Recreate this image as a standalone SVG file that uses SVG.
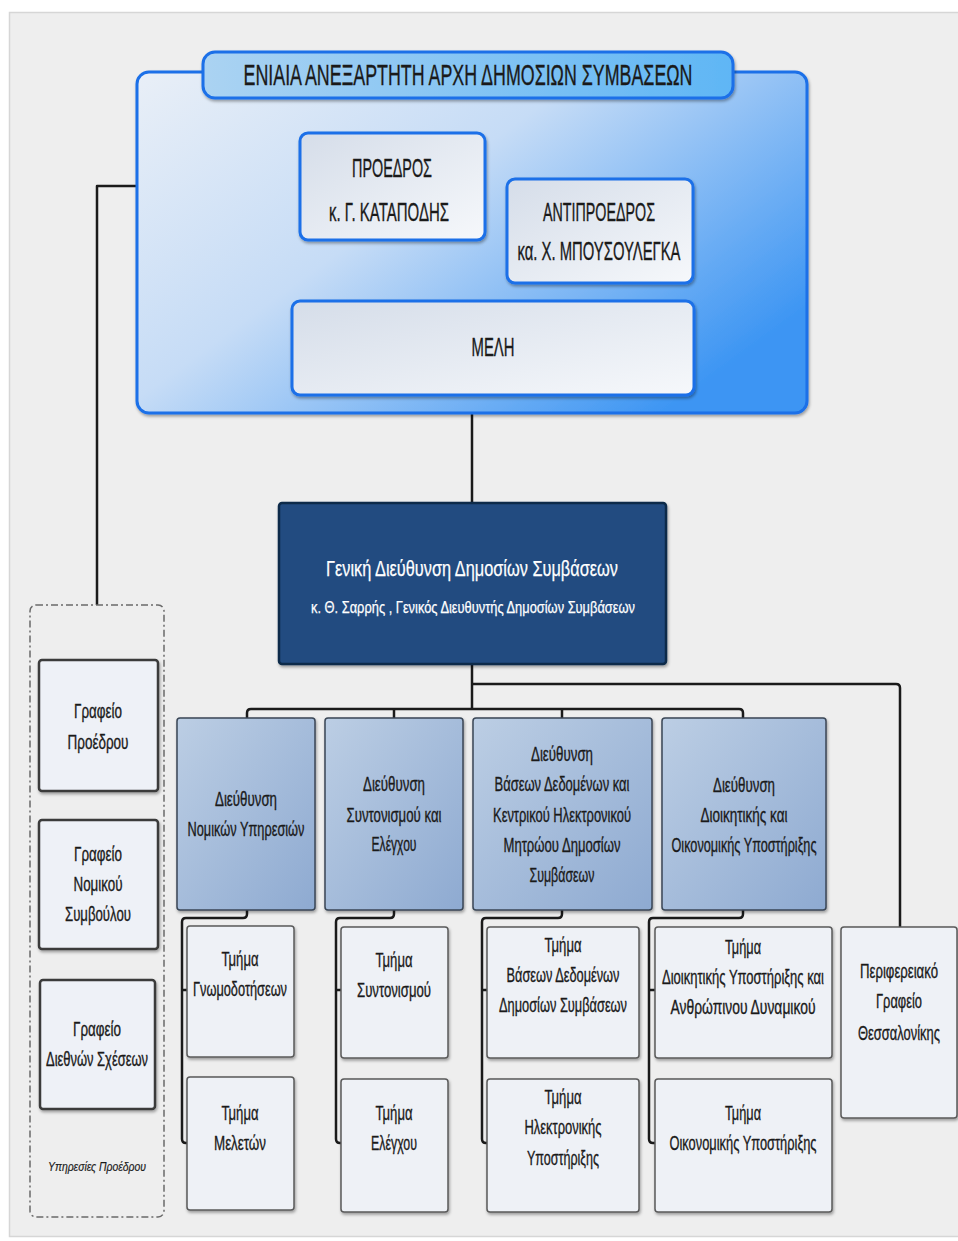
<svg xmlns="http://www.w3.org/2000/svg" width="958" height="1241" viewBox="0 0 958 1241">
<style>
.t{font-family:"Liberation Sans","Open Sans",sans-serif;fill:#1a1a1a;stroke:#1a1a1a;stroke-width:0.35;text-anchor:middle}
.w{font-family:"Liberation Sans","Open Sans",sans-serif;fill:#ffffff;stroke:#ffffff;stroke-width:0.25;text-anchor:middle}
.d{font-size:20px}
.s{font-size:20px}
.con{fill:none;stroke:#1a1a1a;stroke-width:2.5;stroke-linejoin:round}
.inner{fill:url(#gInner);stroke:#1a6fe8;stroke-width:3}
.div{fill:url(#gDiv);stroke:#3a4656;stroke-width:1.5}
.sub{fill:#eef1f6;stroke:#5a5a5a;stroke-width:1.5}
.left{fill:#eef1f7;stroke:#3a3a3a;stroke-width:2.5}
</style>
<defs>
<linearGradient id="gCont" x1="0" y1="0" x2="1" y2="0.7">
<stop offset="0" stop-color="#e9eff7"/>
<stop offset="0.45" stop-color="#c6dcf6"/>
<stop offset="1" stop-color="#3c95f3"/>
</linearGradient>
<linearGradient id="gTitle" x1="0" y1="0" x2="1" y2="0">
<stop offset="0" stop-color="#abd3f2"/>
<stop offset="1" stop-color="#5fb6f5"/>
</linearGradient>
<linearGradient id="gInner" x1="0" y1="0" x2="1" y2="1">
<stop offset="0" stop-color="#d5dde9"/>
<stop offset="1" stop-color="#f6f8fb"/>
</linearGradient>
<linearGradient id="gDiv" x1="0" y1="0" x2="1" y2="1">
<stop offset="0" stop-color="#bccee4"/>
<stop offset="1" stop-color="#8eaad1"/>
</linearGradient>
<filter id="sh" x="-10%" y="-10%" width="130%" height="130%">
<feDropShadow dx="1" dy="2" stdDeviation="1.5" flood-color="#000" flood-opacity="0.35"/>
</filter>
</defs>

<rect x="0" y="0" width="958" height="1241" fill="#ffffff"/>
<rect x="9.5" y="12.5" width="960" height="1224" fill="#eeeeee" stroke="#d6d6d6" stroke-width="1.5"/>

<g id="connectors">
<path class="con" d="M300,186 H97 V605"/>
<path class="con" d="M472,413 V503"/>
<path class="con" d="M472,665 V709"/>
<path class="con" d="M247,718 V713 Q247,709 251,709 H739 Q743,709 743,713 V718"/>
<path class="con" d="M394,709 V718"/>
<path class="con" d="M562,709 V718"/>
<path class="con" d="M472,684 H896 Q900,684 900,688 V927"/>
<path class="con" d="M247,910 V914 Q247,918 243,918 H186 Q182,918 182,922 V1139 Q182,1143 186,1143 H187 M182,990 H187"/>
<path class="con" d="M394,910 V914 Q394,918 390,918 H340 Q336,918 336,922 V1139 Q336,1143 340,1143 H341 M336,990 H341"/>
<path class="con" d="M562,910 V914 Q562,918 558,918 H486 Q482,918 482,922 V1139 Q482,1143 486,1143 H487 M482,990 H487"/>
<path class="con" d="M743,910 V914 Q743,918 739,918 H653 Q649,918 649,922 V1139 Q649,1143 653,1143 H655 M649,990 H655"/>
</g>

<g id="authority">
<rect x="137" y="72" width="670" height="341" rx="12" fill="url(#gCont)" stroke="#1a6fe8" stroke-width="3" filter="url(#sh)"/>
</g>
<g id="title">
<rect x="203" y="52" width="530" height="46" rx="12" fill="url(#gTitle)" stroke="#1a6fe8" stroke-width="3" filter="url(#sh)"/>
<text class="t" x="468" y="85" font-size="30" textLength="449" lengthAdjust="spacingAndGlyphs">ΕΝΙΑΙΑ ΑΝΕΞΑΡΤΗΤΗ ΑΡΧΗ ΔΗΜΟΣΙΩΝ ΣΥΜΒΑΣΕΩΝ</text>
</g>
<g id="president">
<rect class="inner" x="300" y="133" width="185" height="107" rx="8" filter="url(#sh)"/>
<text class="t" x="392" y="177" font-size="25" textLength="80" lengthAdjust="spacingAndGlyphs">ΠΡΟΕΔΡΟΣ</text>
<text class="t" x="389" y="221" font-size="25" textLength="120" lengthAdjust="spacingAndGlyphs">κ. Γ. ΚΑΤΑΠΟΔΗΣ</text>
</g>
<g id="vicepresident">
<rect class="inner" x="507" y="179" width="186" height="104" rx="8" filter="url(#sh)"/>
<text class="t" x="599" y="221" font-size="25" textLength="112" lengthAdjust="spacingAndGlyphs">ΑΝΤΙΠΡΟΕΔΡΟΣ</text>
<text class="t" x="599" y="260" font-size="25" textLength="163" lengthAdjust="spacingAndGlyphs">κα. Χ. ΜΠΟΥΣΟΥΛΕΓΚΑ</text>
</g>
<g id="members">
<rect class="inner" x="292" y="301" width="402" height="94" rx="8" filter="url(#sh)"/>
<text class="t" x="493" y="356" font-size="25" textLength="43" lengthAdjust="spacingAndGlyphs">ΜΕΛΗ</text>
</g>

<g id="general-directorate">
<rect x="279" y="503" width="387" height="161" rx="3" fill="#224b80" stroke="#0f2a4a" stroke-width="2.5" filter="url(#sh)"/>
<text class="w" x="472" y="576" font-size="22" textLength="292" lengthAdjust="spacingAndGlyphs">Γενική Διεύθυνση Δημοσίων Συμβάσεων</text>
<text class="w" x="473" y="613" font-size="16" textLength="324" lengthAdjust="spacingAndGlyphs">κ. Θ. Σαρρής , Γενικός Διευθυντής Δημοσίων Συμβάσεων</text>
</g>

<g id="president-services">
<rect x="30" y="605" width="134" height="612" rx="6" fill="none" stroke="#6a6a6a" stroke-width="1.5" stroke-dasharray="7 3 2 3"/>
<text class="t" x="97" y="1171" font-size="13" font-style="italic" textLength="98" lengthAdjust="spacingAndGlyphs" style="stroke-width:0.2">Υπηρεσίες Προέδρου</text>
</g>
<g id="office-president">
<rect class="left" x="39" y="660" width="119" height="131" rx="3" filter="url(#sh)"/>
<text class="t d" x="98" y="718" textLength="48" lengthAdjust="spacingAndGlyphs">Γραφείο</text>
<text class="t d" x="98" y="749" textLength="61" lengthAdjust="spacingAndGlyphs">Προέδρου</text>
</g>
<g id="office-legal-advisor">
<rect class="left" x="39" y="820" width="119" height="129" rx="3" filter="url(#sh)"/>
<text class="t d" x="98" y="861" textLength="48" lengthAdjust="spacingAndGlyphs">Γραφείο</text>
<text class="t d" x="98" y="891" textLength="49" lengthAdjust="spacingAndGlyphs">Νομικού</text>
<text class="t d" x="98" y="921" textLength="66" lengthAdjust="spacingAndGlyphs">Συμβούλου</text>
</g>
<g id="office-international">
<rect class="left" x="40" y="980" width="115" height="129" rx="3" filter="url(#sh)"/>
<text class="t d" x="97" y="1036" textLength="48" lengthAdjust="spacingAndGlyphs">Γραφείο</text>
<text class="t d" x="97" y="1066" textLength="102" lengthAdjust="spacingAndGlyphs">Διεθνών Σχέσεων</text>
</g>

<g id="dir-legal">
<rect class="div" x="177" y="718" width="138" height="192" rx="3" filter="url(#sh)"/>
<text class="t d" x="246" y="806" textLength="62" lengthAdjust="spacingAndGlyphs">Διεύθυνση</text>
<text class="t d" x="246" y="836" textLength="117" lengthAdjust="spacingAndGlyphs">Νομικών Υπηρεσιών</text>
</g>
<g id="dir-coordination">
<rect class="div" x="325" y="718" width="138" height="192" rx="3" filter="url(#sh)"/>
<text class="t d" x="394" y="791" textLength="62" lengthAdjust="spacingAndGlyphs">Διεύθυνση</text>
<text class="t d" x="394" y="822" textLength="95" lengthAdjust="spacingAndGlyphs">Συντονισμού και</text>
<text class="t d" x="394" y="851" textLength="45" lengthAdjust="spacingAndGlyphs">Ελέγχου</text>
</g>
<g id="dir-databases">
<rect class="div" x="473" y="718" width="179" height="192" rx="3" filter="url(#sh)"/>
<text class="t d" x="562" y="761" textLength="62" lengthAdjust="spacingAndGlyphs">Διεύθυνση</text>
<text class="t d" x="562" y="791" textLength="135" lengthAdjust="spacingAndGlyphs">Βάσεων Δεδομένων και</text>
<text class="t d" x="562" y="822" textLength="138" lengthAdjust="spacingAndGlyphs">Κεντρικού Ηλεκτρονικού</text>
<text class="t d" x="562" y="852" textLength="117" lengthAdjust="spacingAndGlyphs">Μητρώου Δημοσίων</text>
<text class="t d" x="562" y="882" textLength="65" lengthAdjust="spacingAndGlyphs">Συμβάσεων</text>
</g>
<g id="dir-admin">
<rect class="div" x="662" y="718" width="164" height="192" rx="3" filter="url(#sh)"/>
<text class="t d" x="744" y="792" textLength="62" lengthAdjust="spacingAndGlyphs">Διεύθυνση</text>
<text class="t d" x="744" y="822" textLength="87" lengthAdjust="spacingAndGlyphs">Διοικητικής και</text>
<text class="t d" x="744" y="852" textLength="145" lengthAdjust="spacingAndGlyphs">Οικονομικής Υποστήριξης</text>
</g>

<g id="dept-opinions">
<rect class="sub" x="187" y="926" width="107" height="131" rx="3" filter="url(#sh)"/>
<text class="t s" x="240" y="966" textLength="37" lengthAdjust="spacingAndGlyphs">Τμήμα</text>
<text class="t s" x="240" y="996" textLength="94" lengthAdjust="spacingAndGlyphs">Γνωμοδοτήσεων</text>
</g>
<g id="dept-studies">
<rect class="sub" x="187" y="1077" width="107" height="133" rx="3" filter="url(#sh)"/>
<text class="t s" x="240" y="1120" textLength="37" lengthAdjust="spacingAndGlyphs">Τμήμα</text>
<text class="t s" x="240" y="1150" textLength="52" lengthAdjust="spacingAndGlyphs">Μελετών</text>
</g>
<g id="dept-coordination">
<rect class="sub" x="341" y="927" width="107" height="131" rx="3" filter="url(#sh)"/>
<text class="t s" x="394" y="967" textLength="37" lengthAdjust="spacingAndGlyphs">Τμήμα</text>
<text class="t s" x="394" y="997" textLength="74" lengthAdjust="spacingAndGlyphs">Συντονισμού</text>
</g>
<g id="dept-control">
<rect class="sub" x="341" y="1079" width="107" height="133" rx="3" filter="url(#sh)"/>
<text class="t s" x="394" y="1120" textLength="37" lengthAdjust="spacingAndGlyphs">Τμήμα</text>
<text class="t s" x="394" y="1150" textLength="46" lengthAdjust="spacingAndGlyphs">Ελέγχου</text>
</g>
<g id="dept-databases">
<rect class="sub" x="487" y="927" width="152" height="131" rx="3" filter="url(#sh)"/>
<text class="t s" x="563" y="952" textLength="37" lengthAdjust="spacingAndGlyphs">Τμήμα</text>
<text class="t s" x="563" y="982" textLength="113" lengthAdjust="spacingAndGlyphs">Βάσεων Δεδομένων</text>
<text class="t s" x="563" y="1012" textLength="128" lengthAdjust="spacingAndGlyphs">Δημοσίων Συμβάσεων</text>
</g>
<g id="dept-electronic">
<rect class="sub" x="487" y="1079" width="152" height="133" rx="3" filter="url(#sh)"/>
<text class="t s" x="563" y="1104" textLength="37" lengthAdjust="spacingAndGlyphs">Τμήμα</text>
<text class="t s" x="563" y="1134" textLength="77" lengthAdjust="spacingAndGlyphs">Ηλεκτρονικής</text>
<text class="t s" x="563" y="1165" textLength="72" lengthAdjust="spacingAndGlyphs">Υποστήριξης</text>
</g>
<g id="dept-admin">
<rect class="sub" x="655" y="927" width="177" height="131" rx="3" filter="url(#sh)"/>
<text class="t s" x="743" y="954" textLength="36" lengthAdjust="spacingAndGlyphs">Τμήμα</text>
<text class="t s" x="743" y="984" textLength="162" lengthAdjust="spacingAndGlyphs">Διοικητικής Υποστήριξης και</text>
<text class="t s" x="743" y="1014" textLength="145" lengthAdjust="spacingAndGlyphs">Ανθρώπινου Δυναμικού</text>
</g>
<g id="dept-finance">
<rect class="sub" x="655" y="1079" width="177" height="133" rx="3" filter="url(#sh)"/>
<text class="t s" x="743" y="1120" textLength="36" lengthAdjust="spacingAndGlyphs">Τμήμα</text>
<text class="t s" x="743" y="1150" textLength="147" lengthAdjust="spacingAndGlyphs">Οικονομικής Υποστήριξης</text>
</g>
<g id="regional-office">
<rect class="sub" x="841" y="927" width="116" height="191" rx="3" filter="url(#sh)"/>
<text class="t s" x="899" y="978" textLength="78" lengthAdjust="spacingAndGlyphs">Περιφερειακό</text>
<text class="t s" x="899" y="1008" textLength="46" lengthAdjust="spacingAndGlyphs">Γραφείο</text>
<text class="t s" x="899" y="1040" textLength="82" lengthAdjust="spacingAndGlyphs">Θεσσαλονίκης</text>
</g>
</svg>
